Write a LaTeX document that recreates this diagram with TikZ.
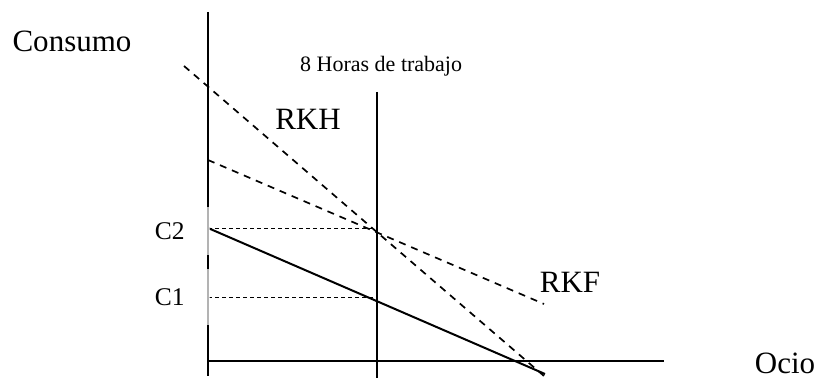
\documentclass[tikz,border=0pt]{standalone}
\usepackage{fontspec}
\setmainfont{Liberation Serif}
\usepackage{tikz}
\usetikzlibrary{positioning}
\tikzset{
  axisline/.style={draw, line width=2pt},
  budget/.style={draw, line width=2pt},
  rkline/.style={draw, line width=1.7pt, dash pattern=on 7pt off 6pt},
  guide/.style={draw, line width=1pt, dash pattern=on 4pt off 3pt},
  biglbl/.style={inner sep=0pt, font=\fontsize{31}{34}\selectfont},
  clbl/.style={inner sep=0pt, anchor=east, text width=55pt, align=left,
               minimum height=48pt, fill=white, fill opacity=0.7, text opacity=1,
               font=\fontsize{25.5}{29}\selectfont},
}

\begin{document}
\begin{tikzpicture}[x=1pt, y=-1pt]
  \useasboundingbox (0,0) rectangle (819,379);
  % axes and the 8 hour line
  \coordinate (ytop) at (208,12);
  \coordinate (ybot) at (208,376);
  \coordinate (xbeg) at (208,360.5);
  \coordinate (xend) at (664,360.5);
  \coordinate (htop) at (376.7,92);
  \coordinate (hbot) at (376.7,378);
  \draw[axisline] (ytop) -- (ybot);
  \draw[axisline] (xbeg) -- (xend);
  \draw[axisline] (htop) -- (hbot);
  % budget lines
  \coordinate (b0) at (208,228);
  \coordinate (b1) at (545,374);
  \coordinate (h0) at (184,66);
  \coordinate (h1) at (544,376);
  \coordinate (f0) at (208,160);
  \coordinate (f1) at (544,304);
  \draw[budget] (b0) -- (b1);
  \draw[rkline] (h0) -- (h1);
  \draw[rkline] (f0) -- (f1);
  % consumption levels
  \coordinate (c2a) at (208,229);
  \coordinate (c2b) at (376.7,229);
  \coordinate (c1a) at (208,298);
  \coordinate (c1b) at (376.7,298);
  \draw[guide] (c2a) -- (c2b);
  \draw[guide] (c1a) -- (c1b);
  \node[clbl] (c2) at (210,231) {C2};
  \node[clbl, minimum height=56pt] (c1) at (210,297) {C1};
  % labels
  \node[biglbl] (cons) at (72,41) {Consumo};
  \node[biglbl] (ocio) at (785,363) {Ocio};
  \node[biglbl] (rkh) at (308,119) {RKH};
  \node[biglbl] (rkf) at (570,282) {RKF};
  \node[inner sep=0pt, anchor=base west, font=\fontsize{22}{26}\selectfont]
    (horas) at (300,72) {8 Horas de trabajo};
\end{tikzpicture}
\end{document}
